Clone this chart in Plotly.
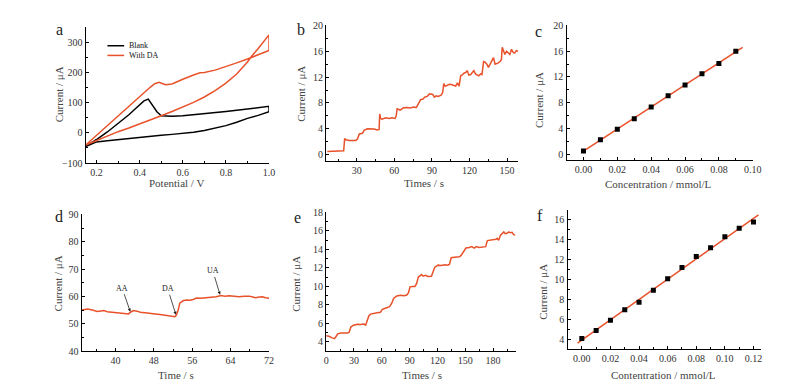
import numpy as np
import plotly.graph_objects as go

RED = "#E8522B"
FONT = "Liberation Serif"

# ---------------- Panel a: cyclic voltammograms ----------------
blank_E = [0.15, 0.2, 0.25, 0.3, 0.35, 0.4, 0.45, 0.5, 0.55, 0.6, 0.65, 0.7, 0.75, 0.8, 0.85, 0.9, 0.95, 1.0,
           1.0, 0.95, 0.9, 0.85, 0.8, 0.75, 0.7, 0.65, 0.6, 0.55, 0.52, 0.5, 0.48, 0.46, 0.44, 0.42, 0.4, 0.38, 0.35,
           0.3, 0.25, 0.2, 0.15]
blank_I = [-45, -30, -26, -22, -18, -14, -11, -8, -5, -2, 2, 8, 15, 24, 35, 48, 58, 70,
           88, 83, 79, 75, 71, 67, 63, 60, 57, 55, 55, 57, 70, 90, 112, 106, 94, 80, 60,
           30, 3, -22, -45]
da_E = [0.15, 0.2, 0.25, 0.3, 0.35, 0.4, 0.45, 0.5, 0.55, 0.6, 0.65, 0.7, 0.75, 0.8, 0.85, 0.9, 0.92, 0.95, 0.98, 1.0,
        1.0, 0.95, 0.9, 0.85, 0.8, 0.75, 0.7, 0.68, 0.65, 0.62, 0.6, 0.55, 0.52, 0.49, 0.47, 0.45, 0.4, 0.35, 0.3,
        0.25, 0.2, 0.15]
da_I = [-40, -25, -10, 4, 16, 29, 42, 57, 71, 86, 101, 119, 140, 165, 195, 235, 255, 280, 305, 325,
        273, 258, 245, 232, 220, 208, 200, 199, 192, 184, 178, 162, 160, 168, 163, 152, 120, 88, 57,
        25, -5, -40]
a_legend = ["Blank", "With DA"]

# ---------------- Panel b: amperometric response to DA ----------------
b_t = [6.4, 18.0, 19.5, 20.3, 21.5, 24, 27, 29.2, 30.5, 32, 34.5, 35.8, 38.4, 41, 44, 46.2, 47.8, 48.3, 49, 50.2,
       53, 56, 58, 60.6, 61.5, 62.2, 64.6, 67.2, 70, 73, 75, 77.6, 79, 81, 82.9, 84.2, 86, 88.1, 90.7, 92, 93.4,
       95, 97.3, 98.6, 99.5, 100.5, 102, 104, 106, 109, 110.4, 111.7, 113, 114, 115.6, 117, 118.2, 119.5, 121,
       122.1, 123.5, 124.8, 126, 127.4, 129, 130, 131.3, 132.5, 133.9, 135.2, 136.5, 137.9, 139.2, 140.5, 142,
       143.1, 144.4, 145.5, 146.2, 147.3, 148.3, 149.6, 151, 152.3, 153.6, 155, 156.2, 157.5, 158.8]
b_I = [0.5, 0.5, 0.6, 2.5, 2.3, 2.2, 2.25, 2.2, 2.4, 3.2, 3.3, 3.75, 4.0, 4.0, 3.95, 3.8, 3.9, 6.3, 5.6, 5.5,
       5.7, 5.6, 5.7, 5.6, 6.0, 7.1, 6.9, 7.25, 7.3, 7.2, 7.35, 7.3, 7.8, 8.5, 8.6, 8.9, 9.0, 9.4, 9.3, 8.9, 9.1,
       9.0, 9.2, 9.6, 11.0, 10.6, 10.7, 10.9, 10.8, 10.6, 11.1, 10.6, 12.2, 12.3, 12.6, 12.7, 13.0, 12.3, 12.4,
       12.6, 13.0, 12.5, 12.3, 12.2, 12.5, 12.4, 14.4, 14.3, 14.0, 13.5, 14.0, 14.5, 15.0, 14.0, 14.1,
       14.2, 14.4, 14.7, 16.6, 16.0, 15.5, 16.0, 15.7, 15.5, 16.3, 15.8, 15.75, 16.1, 16.0]

# ---------------- Panel c: calibration (DA) ----------------
c_conc = [0.00, 0.01, 0.02, 0.03, 0.04, 0.05, 0.06, 0.07, 0.08, 0.09]
c_I = [0.5, 2.25, 3.9, 5.5, 7.35, 9.1, 10.75, 12.5, 14.1, 16.0]
c_fit_range = [0.0, 0.094]

# ---------------- Panel d: interference test ----------------
d_t = [33, 34.2, 35.2, 36.2, 37, 37.6, 38.3, 39, 40, 41, 41.7, 42.3, 42.75, 43.2, 43.8, 44.5, 45.2, 46.2, 47.2,
       48.3, 49.3, 50, 50.7, 51.4, 52, 52.4, 52.7, 53.1, 53.4, 53.8, 54.1, 54.8, 55.5, 56.2, 56.9, 57.8, 58.9, 60,
       61, 62, 62.8, 63.7, 64.7, 65.8, 66.8, 67.9, 68.6, 69.2, 70, 70.6, 71.3, 72]
d_I = [55.0, 55.4, 55.0, 54.5, 54.7, 54.8, 54.4, 54.3, 54.2, 54.1, 54.0, 53.9, 53.6, 54.3, 54.8, 54.6, 54.2, 54.0,
       53.7, 53.6, 53.4, 53.2, 53.0, 52.9, 52.8, 52.6, 53.2, 55.1, 57.5, 58.2, 58.4, 58.7, 58.6, 58.9, 59.4, 59.3,
       59.5, 59.6, 59.9, 60.3, 60.1, 60.2, 60.0, 59.9, 60.1, 60.1, 59.8, 59.5, 59.8, 59.9, 59.5, 59.3]
d_labels = ["AA", "DA", "UA"]
d_label_t = [41.4, 50.9, 60.3]
d_label_I = [63.0, 62.8, 69.3]
d_arrow_t = [43.1, 52.6, 61.8]
d_arrow_I = [54.4, 53.3, 60.6]

# ---------------- Panel e: amperometric response ----------------
e_t = [0, 3, 6, 8.9, 10.5, 12.4, 16, 20, 23, 24.8, 26.6, 29.4, 33.7, 37, 40.8, 42.6, 44.3, 46, 47.9, 51, 55, 58.5,
       60.3, 63, 65.6, 68.4, 70.9, 72.7, 76.2, 80, 84, 86.9, 88.7, 90.4, 93, 95.7, 97.5, 99.3, 102.8, 104.6, 107,
       109.9, 113.5, 115, 117, 120.6, 124, 128, 131.2, 133, 134.8, 138, 141, 143.6, 145.5, 147.2, 149, 150.7,
       154.3, 157, 159.6, 162, 164.9, 168, 172, 173.8, 177, 180.9, 183, 184.4, 186, 188, 191.5, 193, 195, 197,
       198.6, 200.5, 202.1, 203.9]
e_I = [4.65, 4.6, 4.45, 4.35, 4.55, 4.87, 4.95, 4.93, 4.95, 5.05, 5.6, 5.8, 5.9, 5.88, 5.92, 5.8, 6.45, 6.8, 7.0,
       7.1, 7.15, 7.2, 7.5, 7.6, 7.7, 7.8, 8.2, 8.7, 8.97, 9.05, 9.0, 9.07, 9.3, 9.95, 10.0, 10.0, 10.3, 11.0,
       11.28, 11.1, 11.2, 11.07, 11.1, 11.5, 12.05, 12.3, 12.25, 12.35, 12.3, 12.4, 13.1, 13.15, 13.2, 13.2,
       13.35, 13.6, 13.9, 14.15, 14.2, 14.3, 14.15, 14.3, 14.2, 14.25, 14.3, 14.96, 15.0, 15.0, 15.1, 15.2,
       15.0, 15.55, 15.9, 15.7, 15.75, 15.9, 15.8, 15.85, 15.6, 15.55]

# ---------------- Panel f: calibration ----------------
f_conc = [0.00, 0.01, 0.02, 0.03, 0.04, 0.05, 0.06, 0.07, 0.08, 0.09, 0.10, 0.11, 0.12]
f_I = [4.06, 4.87, 5.9, 6.95, 7.7, 8.9, 10.06, 11.19, 12.28, 13.18, 14.27, 15.13, 15.74]
f_fit_range = [-0.003, 0.1235]

W, H = 812, 391


def px(x0, x1):
    return [x0 / W, x1 / W]


def py(top, bottom):
    return [1 - bottom / H, 1 - top / H]


def axis(domain, anchor, rng, dtick, mdtick, fmt=None):
    return dict(domain=domain, anchor=anchor, range=rng, dtick=dtick, tick0=0,
                showline=True, linecolor="black", linewidth=1.4,
                ticks="inside", ticklen=3, tickwidth=1, tickcolor="black",
                minor=dict(ticks="inside", ticklen=2, dtick=mdtick, tick0=0, tickcolor="black"),
                showgrid=False, zeroline=False, tickformat=fmt,
                tickfont=dict(family=FONT, size=10, color="#333"))


fig = go.Figure()

# a
fig.add_trace(go.Scatter(x=blank_E, y=blank_I, mode="lines", name=a_legend[0],
                         line=dict(color="black", width=1.5), xaxis="x", yaxis="y"))
fig.add_trace(go.Scatter(x=da_E, y=da_I, mode="lines", name=a_legend[1],
                         line=dict(color=RED, width=1.5), xaxis="x", yaxis="y"))
# b
fig.add_trace(go.Scatter(x=b_t, y=b_I, mode="lines",
                         line=dict(color=RED, width=1.5), xaxis="x2", yaxis="y2"))
# c
cp = np.polyfit(c_conc, c_I, 1)
fig.add_trace(go.Scatter(x=c_fit_range, y=list(np.polyval(cp, c_fit_range)), mode="lines",
                         line=dict(color=RED, width=1.5), xaxis="x3", yaxis="y3"))
fig.add_trace(go.Scatter(x=c_conc, y=c_I, mode="markers",
                         marker=dict(symbol="square", size=5, color="black"), xaxis="x3", yaxis="y3"))
# d
fig.add_trace(go.Scatter(x=d_t, y=d_I, mode="lines",
                         line=dict(color=RED, width=1.5), xaxis="x4", yaxis="y4"))
# e
fig.add_trace(go.Scatter(x=e_t, y=e_I, mode="lines",
                         line=dict(color=RED, width=1.5), xaxis="x5", yaxis="y5"))
# f
fp = np.polyfit(f_conc, f_I, 1)
fig.add_trace(go.Scatter(x=f_fit_range, y=list(np.polyval(fp, f_fit_range)), mode="lines",
                         line=dict(color=RED, width=1.5), xaxis="x6", yaxis="y6"))
fig.add_trace(go.Scatter(x=f_conc, y=f_I, mode="markers",
                         marker=dict(symbol="square", size=5, color="black"), xaxis="x6", yaxis="y6"))

layout = dict(
    width=W, height=H, margin=dict(l=0, r=0, t=0, b=0),
    paper_bgcolor="white", plot_bgcolor="white",
    font=dict(family=FONT, size=10, color="#333"),
    showlegend=False,
    xaxis=axis(px(84, 270), "y", [0.15, 1.0], 0.2, 0.1, ".1f"),
    yaxis=axis(py(22, 162), "x", [-100, 350], 100, 50),
    xaxis2=axis(px(328, 523), "y2", [5.5, 159], 30, 15),
    yaxis2=axis(py(20, 160), "x2", [-1, 20], 4, 2),
    xaxis3=axis(px(572, 761), "y3", [-0.01, 0.10], 0.02, 0.01, ".2f"),
    yaxis3=axis(py(20, 159), "x3", [-0.9, 20], 4, 2),
    xaxis4=axis(px(80, 270), "y4", [33, 72], 8, 4),
    yaxis4=axis(py(215, 356), "x4", [40, 90], 10, 5),
    xaxis5=axis(px(328, 521), "y5", [0, 205], 30, 15),
    yaxis5=axis(py(213, 356), "x5", [3, 18], 2, 1),
    xaxis6=axis(px(573, 769), "y6", [-0.01, 0.125], 0.02, 0.01, ".2f"),
    yaxis6=axis(py(210, 354), "x6", [3, 17], 2, 1),
)
fig.update_layout(**layout)

ann = []
shapes = []
# axis titles
titles = [
    ("Current / μA", 57, 91, -90), ("Potential / V", 176, 183, 0),
    ("Current / μA", 303, 91, -90), ("Times / s", 427, 183, 0),
    ("Current / μA", 544, 97, -90), ("Concentration / mmol/L", 665, 184, 0),
    ("Current / μA", 56, 286, -90), ("Time / s", 176, 381, 0),
    ("Current / μA", 298, 287, -90), ("Times / s", 425, 381, 0),
    ("Current / μA", 548, 295, -90), ("Contentration / mmol/L", 670, 381, 0),
]
for txt, x, y, ang in titles:
    ann.append(dict(text=txt, x=x / W, y=1 - y / H, xref="paper", yref="paper", showarrow=False,
                    textangle=ang, xanchor="center", yanchor="middle",
                    font=dict(family=FONT, size=11, color="#444")))
# panel letters
for letter, x, y in [("a", 57, 24), ("b", 302, 24), ("c", 544, 26), ("d", 57, 217), ("e", 299, 218), ("f", 545, 216)]:
    ann.append(dict(text=letter, x=x / W, y=1 - y / H, xref="paper", yref="paper", showarrow=False,
                    xanchor="center", yanchor="middle", font=dict(family=FONT, size=16, color="#222")))
# legend of panel a (drawn compactly like the original)
for name, col, ly in zip(a_legend, ["black", RED], [41, 51]):
    shapes.append(dict(type="line", xref="paper", yref="paper", x0=106 / W, x1=123 / W,
                       y0=1 - ly / H, y1=1 - ly / H, line=dict(color=col, width=1.5)))
    ann.append(dict(text=name, x=126 / W, y=1 - ly / H, xref="paper", yref="paper", showarrow=False,
                    xanchor="left", yanchor="middle", font=dict(family=FONT, size=8, color="#111")))
# d annotations
for lab, lt, li, at, ai in zip(d_labels, d_label_t, d_label_I, d_arrow_t, d_arrow_I):
    ann.append(dict(text=lab, x=at, y=ai, ax=lt, ay=li, xref="x4", yref="y4", axref="x4", ayref="y4",
                    showarrow=True, arrowhead=2, arrowsize=0.8, arrowwidth=0.8, arrowcolor="#222",
                    font=dict(family=FONT, size=8, color="#222")))
fig.update_layout(annotations=ann, shapes=shapes)

fig.write_html("out.html", config={"displayModeBar": False},
               post_script="document.body.style.margin='0px';document.body.style.overflow='hidden';")
